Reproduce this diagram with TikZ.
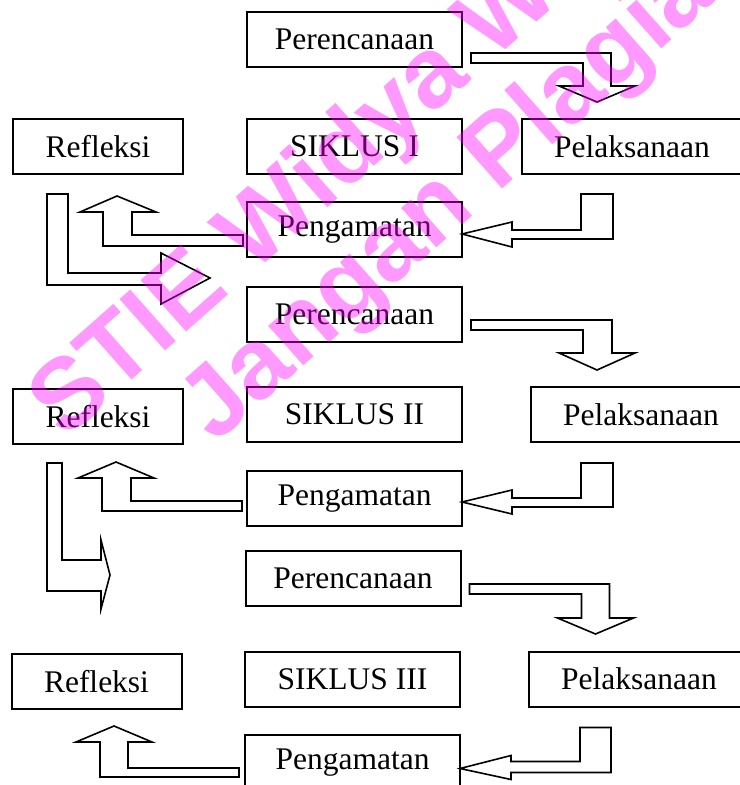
\documentclass[tikz,border=0pt]{standalone}
\usepackage{fontspec}
\setmainfont{Liberation Serif}
\newfontfamily\wmfont{Liberation Sans}
\usepackage{tikz}
\usetikzlibrary{calc}

\definecolor{ungu}{RGB}{255,0,255}

\tikzset{
	kotak/.style={draw, line width=1pt, minimum width=107.5pt, minimum height=27.5pt, inner sep=0pt},
	kotakkecil/.style={kotak, minimum width=85pt},
	kotaklebar/.style={kotak, minimum width=110pt},
	panah/.style={draw, line width=0.8pt, line join=miter},
	tanda/.style={text=ungu, text opacity=0.4, inner sep=0pt, outer sep=0pt,
	   font=\wmfont\bfseries\fontsize{50}{58}\selectfont, rotate=41.5, anchor=base west}
}

\begin{document}
\begin{tikzpicture}[x=0.5pt, y=-0.5pt, font=\fontsize{15.75}{18}\selectfont]
	\useasboundingbox (0,0) rectangle (739,785);

	\node[kotak] (per1) at (354.5,39.5) {Perencanaan};
	\node[kotakkecil] (ref1) at (98,146.5) {Refleksi};
	\node[kotak] (sik1) at (354.5,146.5) {SIKLUS I};
	\node[kotaklebar] (pel1) at (632,146.5) {Pelaksanaan};
	\node[kotak] (pen1) at (354.5,229.5) {Pengamatan};

	\draw[panah] ($(per1.south east)+(8,-15)$) --++(140,0) --++(0,33) --++(24,0) --++(-38,16)
	   --++(-38,-16) --++(24,0) --++(0,-23) --++(-112,0) --cycle;
	\draw[panah] ($(pel1.south west)+(60,19)$) --++(32,0) --++(0,45) --++(-101,0) --++(0,8)
	   --++(-50,-13) --++(50,-12) --++(0,8) --++(69,0) --cycle;
	\draw[panah] ($(pen1.west)+(-3,5.5)$) --++(0,11) --++(-140,0) --++(0,-34) --++(-23,0)
	   --++(37,-16) --++(39,16) --++(-24,0) --++(0,23) --cycle;
	\draw[panah] ($(ref1.south west)+(35,19)$) --++(21,0) --++(0,79) --++(93,0) --++(0,-20)
	   --++(49,25) --++(-49,26) --++(0,-19) --++(-114,0) --cycle;

	\node[kotak] (per2) at (354.5,314.5) {Perencanaan};
	\node[kotakkecil] (ref2) at (98,416.5) {Refleksi};
	\node[kotak] (sik2) at (354.5,414.5) {SIKLUS II};
	\node[kotaklebar] (pel2) at (641,414.5) {Pelaksanaan};
	\node[kotak] (pen2) at (354.5,498.5) {Pengamatan};

	\draw[panah] ($(per2.south east)+(8,-23)$) --++(141,0) --++(0,33) --++(23,0) --++(-38,17)
	   --++(-38,-17) --++(24,0) --++(0,-23) --++(-112,0) --cycle;
	\draw[panah] ($(pel2.south west)+(51,20)$) --++(32,0) --++(0,44) --++(-101,0) --++(0,7)
	   --++(-50,-12) --++(50,-12) --++(0,8) --++(69,0) --cycle;
	\draw[panah] ($(pen2.west)+(-4,2.5)$) --++(0,10) --++(-140,0) --++(0,-33) --++(-24,0)
	   --++(38,-16) --++(38,16) --++(-23,0) --++(0,23) --cycle;
	\draw[panah] ($(ref2.south west)+(35,18)$) --++(15,0) --++(0,97) --++(39,0) --++(0,-20)
	   --++(9,35) --++(-9,34) --++(0,-18) --++(-54,0) --cycle;

	\node[kotak] (per3) at (353,578.5) {Perencanaan};
	\node[kotakkecil] (ref3) at (96.5,681.5) {Refleksi};
	\node[kotak] (sik3) at (352.5,679) {SIKLUS III};
	\node[kotaklebar] (pel3) at (639,679) {Pelaksanaan};
	\node[kotak] (pen3) at (352.5,762.5) {Pengamatan};

	\draw[panah] ($(per3.south east)+(8,-23)$) --++(140,0) --++(0,34) --++(24,0) --++(-38,16)
	   --++(-38,-16) --++(24,0) --++(0,-24) --++(-112,0) --cycle;
	\draw[panah] ($(pel3.south west)+(52,20)$) --++(31,0) --++(0,45) --++(-100,0) --++(0,7)
	   --++(-51,-11) --++(51,-13) --++(0,6) --++(69,0) --cycle;
	\draw[panah] ($(pen3.west)+(-5,5.5)$) --++(0,9) --++(-139,0) --++(0,-35) --++(-24,0)
	   --++(38,-16) --++(38,16) --++(-24,0) --++(0,26) --cycle;

	\node[tanda] (wm1) at (65,440) {STIE Widya Wiwaha};
	\node[tanda] (wm2) at (215,444) {Jangan Plagiat};
\end{tikzpicture}
\end{document}
